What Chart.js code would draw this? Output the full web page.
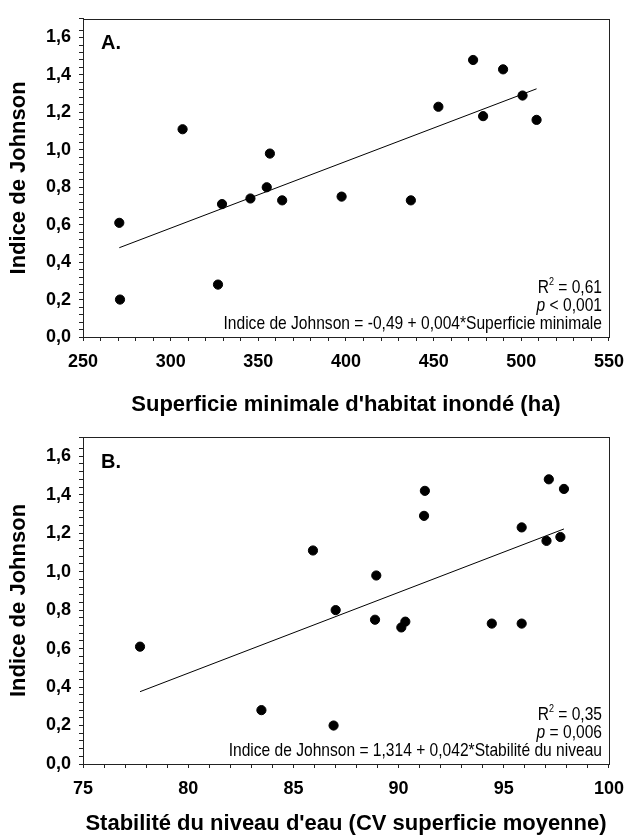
<!DOCTYPE html>
<html>
<head>
<meta charset="utf-8">
<script src="https://cdn.jsdelivr.net/npm/chart.js@4.4.1/dist/chart.umd.min.js"></script>
<style>
  body { margin: 0; background: #fff; }
  canvas { position: absolute; left: 0; }
  #chartA { top: 0; }
  #chartB { top: 418px; }
</style>
</head>
<body>
<canvas id="chartA" width="634" height="418"></canvas>
<canvas id="chartB" width="634" height="419"></canvas>
<script>
// A. superficie minimale d'habitat inondé (ha) vs indice de Johnson
const superficie = [270.7, 271.1, 306.8, 327.0, 329.3, 345.5, 354.8, 356.6, 363.6, 397.5, 437.0, 452.7, 472.5, 478.2, 489.6, 500.7, 508.7];
const johnsonA   = [0.61, 0.20, 1.11, 0.28, 0.71, 0.74, 0.80, 0.98, 0.73, 0.75, 0.73, 1.23, 1.48, 1.18, 1.43, 1.29, 1.16];
const fitAx = [270.7, 508.7];
const fitAy = [0.477, 1.326];

// B. stabilité du niveau d'eau vs indice de Johnson
const stabilite = [77.71, 83.48, 85.93, 86.91, 87.01, 88.88, 88.94, 90.13, 90.32, 91.21, 91.25, 94.43, 95.85, 95.85, 97.03, 97.14, 97.69, 97.86];
const johnsonB  = [0.61, 0.28, 1.11, 0.20, 0.80, 0.75, 0.98, 0.71, 0.74, 1.29, 1.42, 0.73, 1.23, 0.73, 1.16, 1.48, 1.18, 1.43];
const fitBx = [77.71, 97.86];
const fitBy = [0.376, 1.222];

const yTitle = 'Indice de Johnson';
const statsA = ['0,61', '< 0,001', 'Indice de Johnson = -0,49 + 0,004*Superficie minimale'];
const statsB = ['0,35', '= 0,006', 'Indice de Johnson = 1,314 + 0,042*Stabilité du niveau'];

Chart.defaults.font.family = "'Liberation Sans', Arial, sans-serif";
Chart.defaults.color = '#000';

const isMajor = (v, step) => Math.abs(v / step - Math.round(v / step)) < 1e-6;

const pts = (xs, ys) => xs.map((x, i) => ({ x: x, y: ys[i] }));

// the stats text in the original is a condensed face, squeeze it a bit
const SQ = 0.82;
function narrowText(ctx, txt, x, y) {
  ctx.save();
  ctx.translate(x, y);
  ctx.scale(SQ, 1);
  ctx.fillText(txt, 0, 0);
  ctx.restore();
  return ctx.measureText(txt).width * SQ;
}

// frame around the plot, panel letter and regression stats
const frame = {
  id: 'frame',
  afterDraw(chart, args, opts) {
    const { ctx, chartArea: a } = chart;
    ctx.save();
    ctx.strokeStyle = '#222';
    ctx.lineWidth = 1;
    ctx.strokeRect(Math.round(a.left) + 0.5, Math.round(a.top) + 0.5, Math.round(a.right - a.left), Math.round(a.bottom - a.top));

    ctx.fillStyle = '#000';
    ctx.textBaseline = 'middle';
    ctx.font = "bold 20px 'Liberation Sans', Arial";
    ctx.fillText(opts.label, a.left + 18, a.top + 25);

    const fam = "'Liberation Sans', Arial";
    const x = a.right - 7;
    ctx.textAlign = 'right';
    // R² line
    let y = a.bottom - 49;
    ctx.font = '19px ' + fam;
    let w = narrowText(ctx, ' = ' + opts.stats[0], x, y);
    ctx.font = '11px ' + fam;
    w += narrowText(ctx, '2', x - w, y - 6);
    ctx.font = '19px ' + fam;
    narrowText(ctx, 'R', x - w, y);
    // p line
    y = a.bottom - 31;
    w = narrowText(ctx, ' ' + opts.stats[1], x, y);
    ctx.font = 'italic 19px ' + fam;
    narrowText(ctx, 'p', x - w, y);
    // equation
    y = a.bottom - 13;
    ctx.font = '19px ' + fam;
    narrowText(ctx, opts.stats[2], x, y);
    ctx.restore();
  }
};

function makeChart(id, xs, ys, fx, fy, xmin, xmax, xstep, xmajor, xTitle, padTop, xAxisH, label, stats) {
  return new Chart(document.getElementById(id), {
    type: 'scatter',
    data: {
      datasets: [
        {
          data: pts(xs, ys),
          backgroundColor: '#000',
          borderColor: '#000',
          pointRadius: 4.6,
          pointHoverRadius: 4.6
        },
        {
          type: 'line',
          data: pts(fx, fy),
          borderColor: '#000',
          borderWidth: 1,
          pointRadius: 0,
          fill: false
        }
      ]
    },
    options: {
      responsive: false,
      animation: false,
      layout: { padding: { top: padTop, right: 17, left: 0, bottom: 0 } },
      plugins: {
        legend: { display: false },
        tooltip: { enabled: false },
        frame: { label: label, stats: stats }
      },
      scales: {
        x: {
          type: 'linear',
          min: xmin,
          max: xmax,
          afterFit: s => { s.height = xAxisH; },
          border: { display: true, color: '#222' },
          grid: { drawOnChartArea: false, tickLength: 4, color: '#222' },
          ticks: {
            stepSize: xstep,
            autoSkip: false,
            maxRotation: 0,
            padding: 10,
            font: { size: 18, weight: 'bold' },
            callback: v => isMajor(v, xmajor) ? String(v) : ''
          },
          title: {
            display: true,
            text: xTitle,
            font: { size: 22, weight: 'bold' },
            padding: { top: 0, bottom: 0 }
          }
        },
        y: {
          min: 0,
          max: 1.7,
          afterFit: s => { s.width = 83; },
          border: { display: true, color: '#222' },
          grid: { drawOnChartArea: false, tickLength: 4, color: '#222' },
          ticks: {
            stepSize: 0.04,
            autoSkip: false,
            padding: 8,
            font: { size: 18, weight: 'bold' },
            callback: v => isMajor(v, 0.2) ? v.toFixed(1).replace('.', ',') : ''
          },
          title: {
            display: true,
            text: yTitle,
            font: { size: 22, weight: 'bold' },
            padding: { top: 6, bottom: 0 }
          }
        }
      }
    },
    plugins: [frame]
  });
}

makeChart('chartA', superficie, johnsonA, fitAx, fitAy, 250, 550, 10, 50,
  "Superficie minimale d'habitat inondé (ha)", 10, 81, 'A.', statsA);
makeChart('chartB', stabilite, johnsonB, fitBx, fitBy, 75, 100, 1, 5,
  "Stabilité du niveau d'eau (CV superficie moyenne)", 19, 73, 'B.', statsB);
</script>
</body>
</html>
